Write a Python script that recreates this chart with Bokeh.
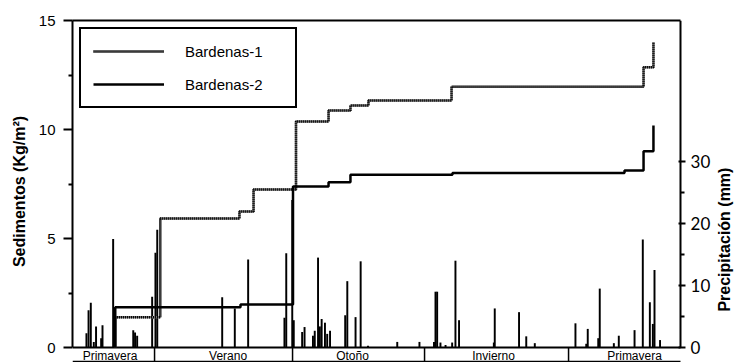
import math
from bokeh.plotting import figure
from bokeh.models import Range1d, LinearAxis, FixedTicker, Legend, LegendItem
from bokeh.embed import file_html
from bokeh.resources import INLINE
from bokeh.core.properties import value

# ---------------- data ----------------
season_names = ["Primavera", "Verano", "Otoño", "Invierno", "Primavera"]
season_bounds = [54.7, 146.7, 234.7, 330.7]
season_label_x = [25.0, 103.7, 186.7, 280.7, 374.7]

rain_day = [9.3, 10.7, 12.2, 14.2, 15.7, 19.1, 20.0, 27.1, 40.5, 41.7, 43.1, 53.1, 55.3, 56.5,
            99.8, 108.2, 117.1, 141.3, 142.5, 146.5,
            147.5, 153.1, 154.7, 160.3, 161.5, 163.7, 164.9, 166.1, 168.3, 169.8, 171.7,
            181.8, 183.2, 188.7, 192.1, 197.0, 216.5, 231.3,
            241.0, 242.0, 243.1, 245.3, 248.7, 253.1, 255.3, 257.7, 280.9, 281.5, 297.7,
            302.5, 308.2,
            335.3, 342.5, 343.5, 350.5, 351.5, 360.9, 364.2, 374.7, 380.2, 384.9, 386.9,
            388.0, 391.7]
rain_mm = [2.3, 6.0, 7.2, 0.9, 3.4, 1.5, 3.6, 17.5, 2.8, 2.4, 1.9, 8.2, 15.3, 19.0,
           8.1, 6.3, 14.2, 4.8, 15.2, 23.8,
           4.4, 2.5, 3.3, 1.9, 2.7, 14.5, 3.4, 4.6, 4.0, 2.2, 2.7,
           5.2, 10.7, 4.9, 13.9, 0.3, 0.9, 0.9,
           0.9, 9.0, 9.0, 0.8, 0.4, 0.8, 14.0, 4.4, 0.8, 6.3, 5.7,
           1.8, 0.7,
           3.9, 0.6, 3.0, 1.5, 9.5, 0.7, 1.9, 2.8, 17.4, 7.3, 3.8,
           12.5, 1.2]

b1_day = [28.5, 28.5, 58.5, 111.3, 120.7, 149.0, 170.7, 185.3, 197.3, 252.7, 380.7, 387.3]
b1_kg = [0.0, 1.39, 5.92, 6.24, 7.25, 10.37, 10.87, 11.10, 11.33, 11.96, 12.86, 14.0]
b2_day = [28.5, 28.5, 112.0, 147.0, 170.7, 185.3, 253.3, 368.0, 380.7, 387.3]
b2_kg = [0.0, 1.85, 1.97, 7.38, 7.58, 7.92, 8.00, 8.12, 9.00, 10.18]

left_ticks = [0, 5, 10, 15]
left_minor = [2.5, 7.5, 12.5]
right_ticks = [0, 10, 20, 30]
right_minor = [5, 15, 25]

# ---------------- layout constants ----------------
X_DATA_END = 405.33      # right edge of the plotting box
X_FRAME_END = 442.0      # frame extends into the right margin (for the right scale)
KG_MIN, KG_MAX = -0.688, 15.0
MM_PER_KG = 3.516
MM_MIN, MM_MAX = KG_MIN * MM_PER_KG, KG_MAX * MM_PER_KG
FONT = "Liberation Sans"

p = figure(width=735, height=362, x_range=Range1d(0, X_FRAME_END),
           y_range=Range1d(KG_MIN, KG_MAX), output_backend="svg",
           toolbar_location=None, x_axis_location=None,
           min_border_left=72, min_border_right=0, min_border_top=20,
           min_border_bottom=0)
p.outline_line_color = None
p.grid.visible = False
p.background_fill_color = "white"
p.extra_y_ranges = {"precip": Range1d(MM_MIN, MM_MAX)}

# left axis
ya = p.yaxis[0]
ya.ticker = FixedTicker(ticks=left_ticks, minor_ticks=left_minor)
ya.bounds = (0, KG_MAX)
ya.axis_line_width = 2
ya.axis_line_color = "black"
ya.major_tick_line_width = 2
ya.major_tick_line_color = "black"
ya.major_tick_out = 9
ya.major_tick_in = 0
ya.minor_tick_line_width = 2
ya.minor_tick_line_color = "black"
ya.minor_tick_out = 4
ya.minor_tick_in = 0
ya.major_label_text_font = FONT
ya.major_label_text_font_size = "15px"
ya.major_label_text_color = "black"
ya.major_label_standoff = 8
ya.axis_label = "Sedimentos (Kg/m²)"
ya.axis_label_text_font = FONT
ya.axis_label_text_font_style = "bold"
ya.axis_label_text_font_size = "16px"
ya.axis_label_text_color = "black"
ya.axis_label_standoff = 8

# top frame line (limited to the plotting box)
ta = LinearAxis(ticker=FixedTicker(ticks=[]), axis_line_width=2, axis_line_color="black",
                major_tick_out=0, minor_tick_out=0, major_label_text_font_size="0px",
                bounds=(0, X_DATA_END))
p.add_layout(ta, "above")

# right scale (precipitation), drawn on the precip range
p.segment(x0=[X_DATA_END], y0=[0], x1=[X_DATA_END], y1=[MM_MAX], y_range_name="precip",
          line_color="black", line_width=2)
p.segment(x0=[X_DATA_END - 1.33] * len(right_ticks), y0=right_ticks,
          x1=[X_DATA_END + 3.33] * len(right_ticks), y1=right_ticks,
          y_range_name="precip", line_color="black", line_width=2)
p.segment(x0=[X_DATA_END] * len(right_minor), y0=right_minor,
          x1=[X_DATA_END + 2.67] * len(right_minor), y1=right_minor,
          y_range_name="precip", line_color="black", line_width=2)
p.text(x=[X_DATA_END + 6.7] * len(right_ticks), y=right_ticks,
       text=[str(t) for t in right_ticks], y_range_name="precip",
       text_font=value("Lato"), text_font_size="17px", text_align="left",
       text_baseline="middle", text_color="black")
p.text(x=[434.5], y=[4.95], text=["Precipitación (mm)"], angle=math.pi / 2,
       text_font=value(FONT), text_font_style="bold", text_font_size="16px",
       text_align="center", text_baseline="middle", text_color="black")

# baseline and season band
p.segment(x0=[0, 0], y0=[0, -0.642], x1=[X_DATA_END, X_DATA_END], y1=[0, -0.642],
          line_color="black", line_width=[2, 1.5])
p.segment(x0=season_bounds, y0=[0] * len(season_bounds), x1=season_bounds,
          y1=[KG_MIN] * len(season_bounds), line_color="black", line_width=1.5)
p.text(x=season_label_x, y=[-0.40] * len(season_label_x), text=season_names,
       text_font=value(FONT), text_font_size="12px", text_align="center",
       text_baseline="middle", text_color="black")

# precipitation bars
p.vbar(x=rain_day, top=rain_mm, bottom=0, width=1.3, y_range_name="precip",
       fill_color="black", line_color=None)

# sediment step lines
b1_base = p.step(b1_day, b1_kg, mode="after", line_color="#777777", line_width=2.5)
b1_dots = p.step(b1_day, b1_kg, mode="after", line_color="black", line_width=2.5,
                 line_dash="1 1")
b2 = p.step(b2_day, b2_kg, mode="after", line_color="black", line_width=2.5)

legend = Legend(items=[LegendItem(label="Bardenas-1", renderers=[b1_base, b1_dots]),
                       LegendItem(label="Bardenas-2", renderers=[b2])],
                location="top_left", margin=7, padding=12, spacing=13,
                glyph_width=71, glyph_height=20, label_standoff=21, label_width=98,
                border_line_color="black", border_line_width=2, border_line_alpha=1.0,
                label_text_font=FONT, label_text_font_size="15px",
                label_text_color="black", background_fill_alpha=1.0)
p.add_layout(legend)

open("out.html", "w").write(file_html(p, INLINE))
